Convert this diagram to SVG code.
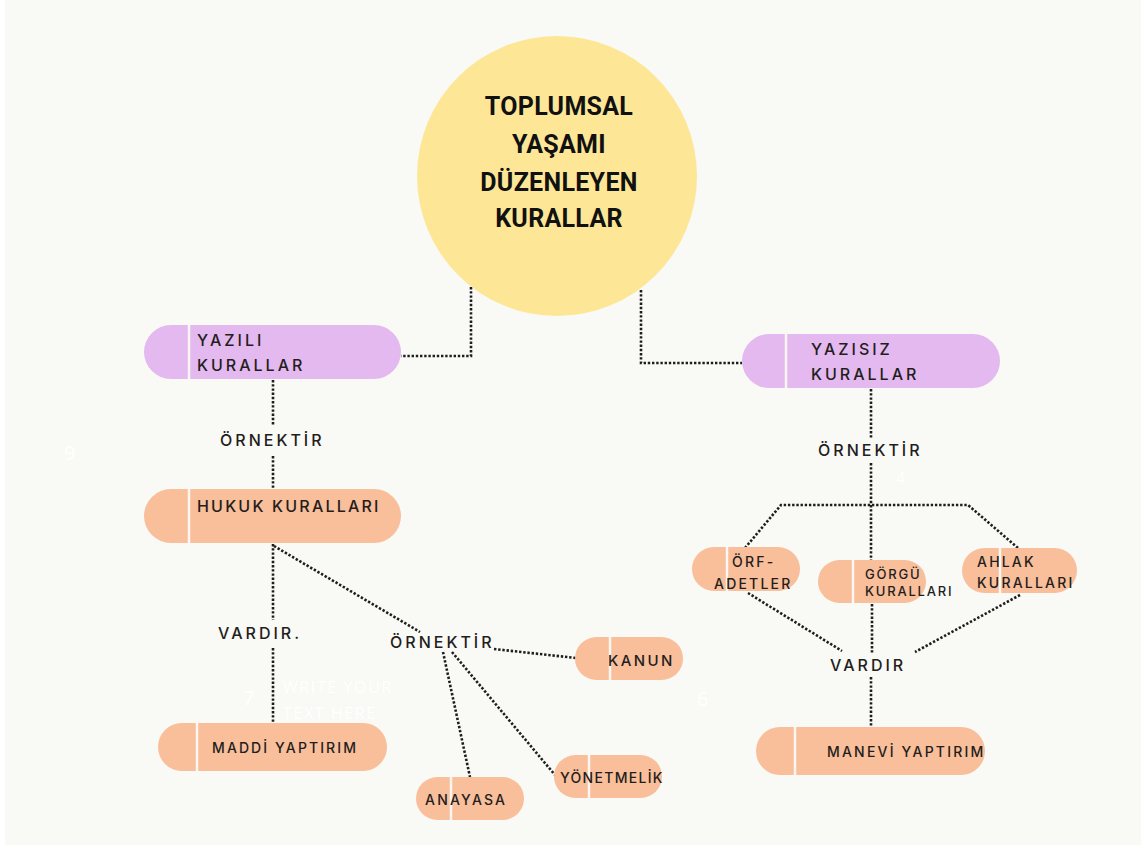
<svg xmlns="http://www.w3.org/2000/svg" width="1141" height="845" viewBox="0 0 1141 845">
  <defs>
    <style>
      .bg { fill: #f9f9f5; }
      .dot { fill: none; stroke: #1e1e1e; stroke-width: 2.6; stroke-dasharray: 2.4 1.8; }
      .lav { fill: #e3b9ef; }
      .peach { fill: #f9be9a; }
      .div { stroke: #fbf6f2; stroke-width: 2.5; }
      .lbl { font-family: Inter, "Open Sans", "Liberation Sans", sans-serif; font-size: 16px; letter-spacing: 3px; fill: #231d1c; font-weight: 500; }
      .sm { font-size: 14px; letter-spacing: 2.2px; }
      .xs { font-size: 13px; letter-spacing: 1.8px; }
      .title { font-family: Roboto, "Liberation Sans", sans-serif; font-weight: bold; font-size: 25px; fill: #111; text-anchor: middle; letter-spacing: 0.3px; }
      .ghost { font-family: "Open Sans", "Liberation Sans", sans-serif; font-size: 20px; fill: #ffffff; letter-spacing: 2px; }
    </style>
  </defs>

  <rect x="0" y="0" width="1141" height="845" fill="#ffffff"/>
  <rect class="bg" x="5" y="0" width="1136" height="845"/>

  <!-- faint placeholder text -->
  <g id="ghost-text">
    <text class="ghost" x="64" y="460">9</text>
    <text class="ghost" x="243" y="705">7</text>
    <text class="ghost" x="283" y="693" style="font-size:16px;letter-spacing:1.6px">WRITE YOUR</text>
    <text class="ghost" x="283" y="719" style="font-size:16px;letter-spacing:1.6px">TEXT HERE</text>
    <text class="ghost" x="697" y="706">6</text>
    <text class="ghost" x="896" y="484" style="font-size:16px">4</text>
  </g>

  <!-- connectors -->
  <g id="connectors">
    <polyline class="dot" points="471,287 471,356 401,356"/>
    <polyline class="dot" points="641,290 641,363 742,363"/>
    <line class="dot" x1="273" y1="380" x2="273" y2="425"/>
    <line class="dot" x1="273" y1="456" x2="273" y2="489"/>
    <line class="dot" x1="273" y1="544" x2="273" y2="620"/>
    <line class="dot" x1="273" y1="648" x2="273" y2="722"/>
    <line class="dot" x1="274" y1="546" x2="420" y2="632"/>
    <line class="dot" x1="494" y1="649" x2="576" y2="658"/>
    <line class="dot" x1="443" y1="652" x2="470" y2="777"/>
    <line class="dot" x1="452" y1="652" x2="555" y2="775"/>
    <line class="dot" x1="871" y1="389" x2="871" y2="438"/>
    <line class="dot" x1="871" y1="463" x2="871" y2="560"/>
    <polyline class="dot" points="745,548 781,505 968,505 1018,548"/>
    <line class="dot" x1="748" y1="593" x2="842" y2="651"/>
    <line class="dot" x1="1020" y1="595" x2="915" y2="652"/>
    <line class="dot" x1="872" y1="604" x2="872" y2="654"/>
    <line class="dot" x1="871" y1="677" x2="871" y2="727"/>
  </g>

  <!-- edge labels -->
  <g id="edge-labels">
    <text class="lbl" x="220" y="446">ÖRNEKTİR</text>
    <text class="lbl" x="218" y="639">VARDIR.</text>
    <text class="lbl" x="390" y="648">ÖRNEKTİR</text>
    <text class="lbl" x="818" y="456">ÖRNEKTİR</text>
    <text class="lbl" x="830" y="671">VARDIR</text>
  </g>

  <g id="root">
    <circle cx="557" cy="176" r="140" fill="#fde797"/>
    <text class="title" x="559" y="115">TOPLUMSAL</text>
    <text class="title" x="559" y="153">YAŞAMI</text>
    <text class="title" x="559" y="191">DÜZENLEYEN</text>
    <text class="title" x="559" y="227">KURALLAR</text>
  </g>

  <g id="yazili">
    <rect class="lav" x="144" y="325" width="257" height="54" rx="27"/>
    <line class="div" x1="189" y1="325" x2="189" y2="379"/>
    <text class="lbl" x="197" y="346">YAZILI</text>
    <text class="lbl" x="197" y="371">KURALLAR</text>
  </g>

  <g id="yazisiz">
    <rect class="lav" x="742" y="334" width="258" height="54" rx="27"/>
    <line class="div" x1="786" y1="334" x2="786" y2="388"/>
    <text class="lbl" x="811" y="355">YAZISIZ</text>
    <text class="lbl" x="811" y="380">KURALLAR</text>
  </g>

  <g id="hukuk">
    <rect class="peach" x="144" y="489" width="257" height="54" rx="27"/>
    <line class="div" x1="189" y1="489" x2="189" y2="543"/>
    <text class="lbl" x="197" y="512" style="letter-spacing:2.2px">HUKUK KURALLARI</text>
  </g>

  <g id="maddi">
    <rect class="peach" x="158" y="723" width="229" height="48" rx="24"/>
    <line class="div" x1="197" y1="723" x2="197" y2="771"/>
    <text class="lbl" x="212" y="753" style="font-size:14px;letter-spacing:2.1px">MADDİ YAPTIRIM</text>
  </g>

  <g id="kanun">
    <rect class="peach" x="575" y="637" width="108" height="43" rx="21.5"/>
    <line class="div" x1="610" y1="637" x2="610" y2="680"/>
    <text class="lbl" x="608" y="666" style="font-size:15px;letter-spacing:2.4px">KANUN</text>
  </g>

  <g id="yonetmelik">
    <rect class="peach" x="554" y="755" width="108" height="43" rx="21.5"/>
    <line class="div" x1="589" y1="755" x2="589" y2="798"/>
    <text class="lbl" x="560" y="783" style="font-size:14px;letter-spacing:1.3px">YÖNETMELİK</text>
  </g>

  <g id="anayasa">
    <rect class="peach" x="416" y="777" width="108" height="43" rx="21.5"/>
    <line class="div" x1="451" y1="777" x2="451" y2="820"/>
    <text class="lbl sm" x="425" y="805">ANAYASA</text>
  </g>

  <g id="orf">
    <rect class="peach" x="692" y="547" width="108" height="44" rx="22"/>
    <line class="div" x1="727" y1="547" x2="727" y2="591"/>
    <text class="lbl sm" x="732" y="567">ÖRF-</text>
    <text class="lbl sm" x="714" y="589">ADETLER</text>
  </g>

  <g id="gorgu">
    <rect class="peach" x="818" y="560" width="108" height="43" rx="21.5"/>
    <line class="div" x1="853" y1="560" x2="853" y2="603"/>
    <text class="lbl xs" x="865" y="579">GÖRGÜ</text>
    <text class="lbl xs" x="865" y="596">KURALLARI</text>
  </g>

  <g id="ahlak">
    <rect class="peach" x="962" y="548" width="115" height="45" rx="22.5"/>
    <line class="div" x1="1000" y1="548" x2="1000" y2="593"/>
    <text class="lbl sm" x="977" y="567">AHLAK</text>
    <text class="lbl sm" x="977" y="588">KURALLARI</text>
  </g>

  <g id="manevi">
    <rect class="peach" x="756" y="727" width="229" height="48" rx="24"/>
    <line class="div" x1="795" y1="727" x2="795" y2="775"/>
    <text class="lbl" x="827" y="757" style="font-size:14px;letter-spacing:2.2px">MANEVİ YAPTIRIM</text>
  </g>
</svg>
